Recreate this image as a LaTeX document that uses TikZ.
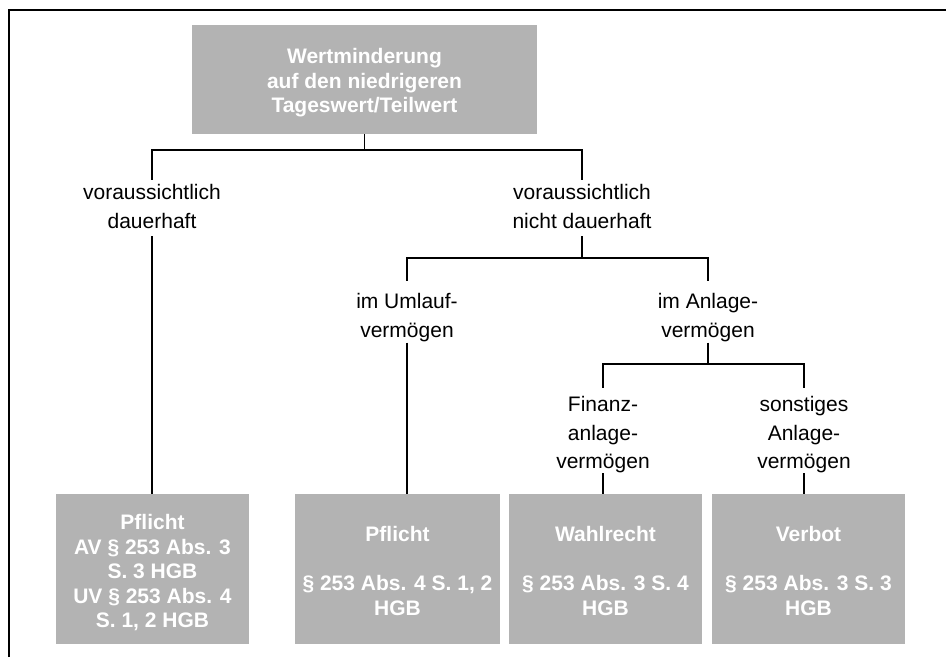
\documentclass[tikz,border=0pt]{standalone}
\usepackage{fontspec}
\setmainfont{Liberation Sans}
\definecolor{boxgray}{RGB}{179,179,179}
\begin{document}
\begin{tikzpicture}[x=1pt,y=-1pt,
  gbox/.style={fill=boxgray, draw=none, text=white, font=\fontsize{21}{24.5}\selectfont\bfseries, align=center, inner sep=0pt},
  lab/.style={font=\fontsize{21}{29}\selectfont, align=center, inner sep=0pt, anchor=base},
  labt/.style={font=\fontsize{21}{28.5}\selectfont, align=center, inner sep=0pt, anchor=base},
  conn/.style={line width=1.4pt},
  frameline/.style={line width=2.2pt}]
\useasboundingbox (0,0) rectangle (946,657);
\draw[frameline] (9,657) -- (9,10) -- (946,10);
% boxes
\node[gbox, minimum width=345pt, minimum height=109pt, text height=71pt] (top) at (364.5,79.5) {Wertminderung\\auf den niedrigeren\\Tageswert/Teilwert};
\node[gbox, minimum width=193pt, minimum height=150pt, text height=121pt] (b1) at (152.5,569) {Pflicht\\AV § 253 Abs. 3\\S. 3 HGB\\UV § 253 Abs. 4\\S. 1, 2 HGB};
\node[gbox, minimum width=205pt, minimum height=150pt, text height=92.5pt] (b2) at (397.5,569) {Pflicht\\[24.5pt]§ 253 Abs. 4 S. 1, 2\\HGB};
\node[gbox, minimum width=193pt, minimum height=150pt, text height=92.5pt] (b3) at (605.5,569) {Wahlrecht\\[24.5pt]§ 253 Abs. 3 S. 4\\HGB};
\node[gbox, minimum width=193pt, minimum height=150pt, text height=92.5pt] (b4) at (808.5,569) {Verbot\\[24.5pt]§ 253 Abs. 3 S. 3\\HGB};
% labels (base anchor = baseline of the last line)
\node[lab] (l1) at (152,228) {voraussichtlich\\dauerhaft};
\node[lab] (l2) at (582,228) {voraussichtlich\\nicht dauerhaft};
\node[lab] (l3) at (407,337) {im Umlauf-\\vermögen};
\node[lab] (l4) at (708,337) {im Anlage-\\vermögen};
\node[labt] (l5) at (603,468.5) {Finanz-\\anlage-\\vermögen};
\node[labt] (l6) at (804,468.5) {sonstiges\\Anlage-\\vermögen};
% junctions
\coordinate (j1) at (364.5,150);
\coordinate (j2) at (582,258);
\coordinate (j3) at (708,364);
% connectors
\draw[conn] (top.south) -- (j1);
\draw[conn, shorten <=4pt, shorten >=4pt] (l1.north) |- (j1) -| (l2.north);
\draw[conn, shorten <=8pt] (l1.south) -- (l1.south |- b1.north);
\draw[conn, shorten <=8pt] (l2.south) -- (j2);
\draw[conn, shorten <=12pt, shorten >=12pt] (l3.north) |- (j2) -| (l4.north);
\draw[conn, shorten <=1pt] (l3.south) -- (l3.south |- b2.north);
\draw[conn, shorten <=1pt] (l4.south) -- (j3);
\draw[conn, shorten <=8.5pt, shorten >=8.5pt] (l5.north) |- (j3) -| (l6.north);
\draw[conn] (l5.south) -- (l5.south |- b3.north);
\draw[conn] (l6.south) -- (l6.south |- b4.north);
\end{tikzpicture}
\end{document}
